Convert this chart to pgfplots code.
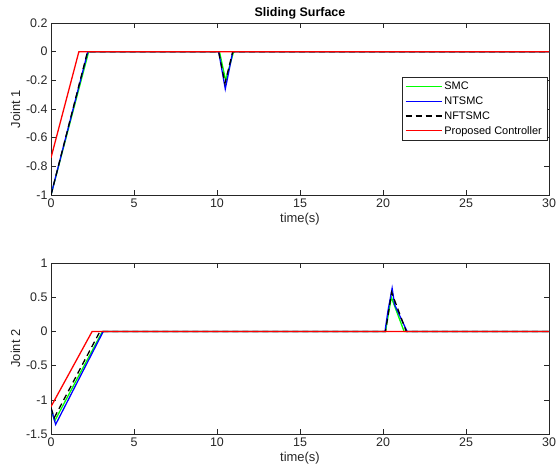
\documentclass[border=0pt]{standalone}
\usepackage{fontspec}
\setmainfont{Liberation Sans}
\usepackage{pgfplots}
\pgfplotsset{compat=1.18}
\definecolor{axgray}{rgb}{0.15,0.15,0.15}
\tikzset{
  smc/.style={green, line width=1.3pt},
  ntsmc/.style={blue, line width=1.3pt},
  nftsmc/.style={black, line width=1.3pt, dash pattern=on 6bp off 4bp},
  prop/.style={red, line width=1.3pt},
}
\pgfplotsset{
  matlab/.style={
    scale only axis, width=498bp,
    xmin=0, xmax=30, xtick={0,5,...,30},
    tick align=inside, major tick length=5bp,
    axis line style={axgray, line width=0.6pt}, tick style={axgray, line width=0.6pt},
    every tick label/.append style={font=\fontsize{12.5}{14}\selectfont, text=axgray},
    label style={font=\fontsize{13}{15}\selectfont, text=axgray},
    /pgf/number format/assume math mode=true,
    xlabel={time(s)},
    xlabel style={yshift=1bp},
    ylabel style={yshift=-1bp},
    clip=true,
  },
}
\begin{document}
\begin{tikzpicture}
\path[use as bounding box] (0,0) rectangle (556bp,474bp);
\begin{axis}[matlab, at={(51bp,279bp)}, anchor=south west, height=172bp,
  ymin=-1, ymax=0.2, ytick={-1,-0.8,...,0.2},
  yticklabels={-1,-0.8,-0.6,-0.4,-0.2,0,0.2},
  ylabel={Joint 1},
  title={\bfseries Sliding Surface},
  title style={font=\fontsize{12.5}{14}\selectfont, yshift=-6bp},
  legend style={at={(0.996,0.686)}, anchor=north east, draw=axgray, fill=white,
    font=\fontsize{11}{12}\selectfont, row sep=1.5bp, inner sep=3bp},
  legend cell align=left,
  legend image code/.code={\draw[#1] (0bp,0bp) -- (36bp,0bp);},
]
\addplot[smc] coordinates {(0,-1) (2.27,0) (10.15,0) (10.52,-0.20) (11.0,0) (30,0)};
\addplot[ntsmc] coordinates {(0,-1) (2.22,0) (10.1,0) (10.5,-0.26) (10.95,0) (30,0)};
\addplot[nftsmc] coordinates {(0,-1) (2.2,0) (10.1,0) (10.48,-0.22) (10.95,0) (30,0)};
\addplot[prop] coordinates {(0,-0.74) (1.68,0) (30,0)};
\legend{SMC,NTSMC,NFTSMC,Proposed Controller}
\end{axis}
\begin{axis}[matlab, at={(51bp,40bp)}, anchor=south west, height=171bp,
  ymin=-1.5, ymax=1, ytick={-1.5,-1,...,1},
  yticklabels={-1.5,-1,-0.5,0,0.5,1},
  ylabel={Joint 2},
]
\addplot[smc] coordinates {(0,-1.13) (0.22,-1.31) (3.1,0) (20.15,0) (20.5,0.5) (21.27,0) (30,0)};
\addplot[ntsmc] coordinates {(0,-1.12) (0.28,-1.36) (3.15,0) (20.12,0) (20.3,0.3) (20.55,0.63) (20.7,0.39) (21.45,0) (30,0)};
\addplot[nftsmc] coordinates {(0,-1.12) (0.2,-1.26) (2.95,0) (20.15,0) (20.52,0.57) (21.4,0) (30,0)};
\addplot[prop] coordinates {(0,-1.1) (2.48,0) (30,0)};
\end{axis}
\end{tikzpicture}
\end{document}
